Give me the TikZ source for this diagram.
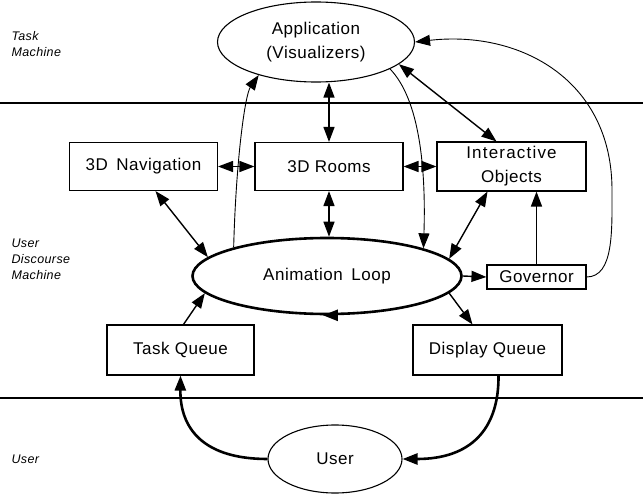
\documentclass[tikz,border=0pt]{standalone}
\usepackage{fontspec}
\setmainfont{Liberation Sans}[LetterSpace=3]
\usetikzlibrary{shapes.geometric,arrows.meta}
\newcommand{\lblfont}{\fontsize{17}{24}\selectfont}
\newcommand{\sidefont}{\fontsize{12.5}{16}\selectfont\itshape}
\begin{document}
\begin{tikzpicture}[x=1pt,y=-1pt,
    tip/.tip={Triangle[length=15pt,width=11pt]},
    box/.style={draw,line width=1.1pt,inner sep=0pt,align=center,font=\lblfont},
    oval/.style={draw,ellipse,line width=1.1pt,inner sep=0pt,align=center,font=\lblfont},
    arr/.style={line width=1.4pt,-tip},
    both/.style={line width=1.4pt,tip-tip},
    thinarr/.style={line width=0.9pt,-tip},
    heavy/.style={line width=2.6pt,-tip},
    sep/.style={line width=2.8pt},
    side/.style={anchor=west,align=left,font=\sidefont}]
            \useasboundingbox (0,0) rectangle (643,495);
%
            % layers
            \draw[sep] (0,103) -- (643,103);
            \draw[sep] (0,398) -- (643,398);
            \node[side] (tasklbl) at (8,44) {Task\\Machine};
            \node[side] (udmlbl) at (8,259) {User\\Discourse\\Machine};
            \node[side] (userlbl) at (8,459) {User};
%
            % nodes
            \node[oval,minimum width=197,minimum height=80] (app) at (316,42) {Application\\(Visualizers)};
            \node[box,minimum width=148,minimum height=48] (nav) at (143.5,166.5) {3D\enspace Navigation};
            \node[box,minimum width=148,minimum height=48] (rooms) at (329,166.5) {3D Rooms};
            \node[box,minimum width=149,minimum height=49] (inter) at (511.5,166.5) {\addfontfeature{LetterSpace=7}Interactive\\Objects};
            \node[oval,line width=2.6pt,minimum width=269,minimum height=76] (loop) at (327,276) {Animation\enspace Loop};
            \node[box,minimum width=99,minimum height=24] (gov) at (536.5,277) {Governor};
            \node[box,minimum width=147,minimum height=50] (taskq) at (180.5,350) {Task Queue};
            \node[box,minimum width=149,minimum height=50] (dispq) at (487.5,350) {Display Queue};
            \node[oval,minimum width=134,minimum height=68] (user) at (335,459) {User};
%
            % middle row
            \draw[both] (nav) -- (rooms);
            \draw[both] (rooms) -- (inter);
            \draw[both] (rooms.north) -- (rooms.north |- app.south);
            \draw[both] (rooms.south) -- (rooms.south |- loop.north);
            \draw[both] ([xshift=12pt]nav.south) -- (loop.171);
            \draw[both] ([xshift=-24pt]inter.south) -- (loop.8);
            \draw[both] (app.-15) -- ([xshift=-15pt]inter.north);
            \draw[arr] (loop.east) -- (gov.west);
            \draw[arr] (gov.north) -- (gov.north |- inter.south);
%
            % thin curves
            \draw[thinarr] (loop.163) .. controls (236,160) and (245,95) .. (app.210);
            \draw[thinarr] (app.-20) .. controls (420,100) and (426,170) .. (loop.16);
            \draw[thinarr] (gov.east) .. controls (614,277) and (612,230) .. (612,190)
                .. controls (612,80) and (520,30) .. (app.east);
%
            % queues
            \draw[arr] ([xshift=3pt]taskq.north) -- (loop.188);
            \draw[arr] (loop.-8) -- ([xshift=-15pt]dispq.north);
            \draw[line width=2.6pt,-tip] (loop.-86) -- (loop.-96);
%
            % user loop
            \draw[heavy] (user.west) .. controls (205,459) and (180,430) .. (taskq.south);
            \draw[heavy] ([xshift=11pt]dispq.south) .. controls (499,430) and (470,459) .. (user.east);
        \end{tikzpicture}
\end{document}
